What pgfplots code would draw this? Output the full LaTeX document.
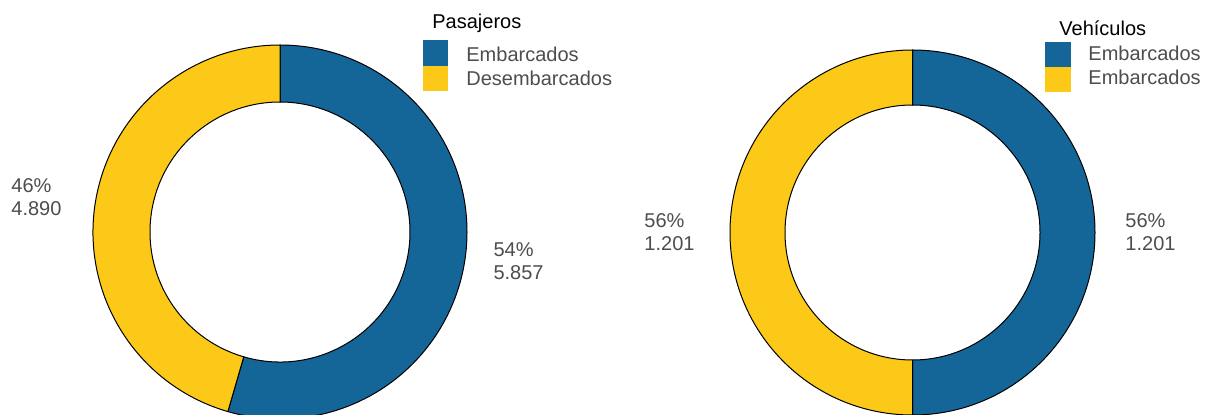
\documentclass[border=0pt]{standalone}
\usepackage{pgfplots}
\pgfplotsset{compat=1.18}
\usepackage{pgfplotstable}
\usepackage{fontspec}
\setmainfont{Liberation Sans}

\definecolor{emb}{HTML}{146699}
\definecolor{des}{HTML}{FCC918}
\definecolor{txt}{HTML}{4D4D4D}

% Movimiento de pasajeros y vehículos
\pgfplotstableread{
cat value
Embarcados 5857
Desembarcados 4890
}\pasajeros
\pgfplotstableread{
cat value
Embarcados 1201
Embarcados 1201
}\vehiculos

% Split angle (clockwise from 12 o'clock) and the two mid angles of a two-slice donut
\newcommand{\donutangles}[2]{%
  \pgfplotstablegetelem{0}{value}\of#1\let\vA\pgfplotsretval
  \pgfplotstablegetelem{1}{value}\of#1\let\vB\pgfplotsretval
  \pgfmathsetmacro\shareA{\vA/(\vA+\vB)}%
  \pgfmathsetmacro\splitang{90-360*\shareA}%
  \pgfmathsetmacro\midA{(90+\splitang)/2}%
  \pgfmathsetmacro\midB{(\splitang-270)/2}%
  \expandafter\xdef\csname #2split\endcsname{\splitang}%
  \expandafter\xdef\csname #2midA\endcsname{\midA}%
  \expandafter\xdef\csname #2midB\endcsname{\midB}%
}
\donutangles{\pasajeros}{P}
\donutangles{\vehiculos}{V}

% ring sector: cx, cy, outer r, inner r, start angle, end angle, colour
\newcommand{\ring}[7]{%
  \fill[#7,draw=black,line width=0.5pt]
    (axis cs:{#1+#3*cos(#5)},{#2+#3*sin(#5)})
    arc[start angle=#5,end angle=#6,radius=#3*0.5pt]
    -- (axis cs:{#1+#4*cos(#6)},{#2+#4*sin(#6)})
    arc[start angle=#6,end angle=#5,radius=#4*0.5pt] -- cycle;}

% slice label: cx, cy, distance, angle, vertical nudge, text
\newcommand{\slicelabel}[6]{%
  \node[txt,align=left,font=\lbl] at (axis cs:{#1+#3*cos(#4)},{#2+#3*sin(#4)+#5}) {#6};}

\newcommand{\lbl}{\fontsize{10}{11.6}\selectfont}

\begin{document}
\begin{tikzpicture}
\begin{axis}[
  x=0.5pt, y=0.5pt,
  xmin=0, xmax=1205, ymin=0, ymax=414,
  hide axis,
]
% Pasajeros
\ring{280}{182}{187}{130}{90}{\Psplit}{emb}
\ring{280}{182}{187}{130}{\Psplit}{-270}{des}
\slicelabel{280}{182}{241}{\PmidA}{5}{54\%\\5.857}
\slicelabel{280}{182}{246}{\PmidB}{0}{46\%\\4.890}

% Vehículos
\ring{912.5}{181.5}{182.5}{127.5}{90}{\Vsplit}{emb}
\ring{912.5}{181.5}{182.5}{127.5}{\Vsplit}{-270}{des}
\slicelabel{912.5}{181.5}{238}{\VmidA}{0}{56\%\\1.201}
\slicelabel{912.5}{181.5}{243}{\VmidB}{0}{56\%\\1.201}

% legends
\node[anchor=base west,inner sep=0pt,font=\lbl] at (axis cs:432,386) {Pasajeros};
\fill[emb] (axis cs:423,374) rectangle (axis cs:448,348);
\fill[des] (axis cs:423,348) rectangle (axis cs:448,323);
\node[txt,anchor=base west,inner sep=0pt,font=\lbl] at (axis cs:466,353) {Embarcados};
\node[txt,anchor=base west,inner sep=0pt,font=\lbl] at (axis cs:466,329) {Desembarcados};

\node[anchor=base west,inner sep=0pt,font=\lbl] at (axis cs:1059,379) {Vehículos};
\fill[emb] (axis cs:1045,372) rectangle (axis cs:1071,347);
\fill[des] (axis cs:1045,347) rectangle (axis cs:1071,322);
\node[txt,anchor=base west,inner sep=0pt,font=\lbl] at (axis cs:1088,354) {Embarcados};
\node[txt,anchor=base west,inner sep=0pt,font=\lbl] at (axis cs:1088,330) {Embarcados};
\end{axis}
\pgfresetboundingbox
\path[use as bounding box] (current axis.south west) rectangle (current axis.north east);
\end{tikzpicture}
\end{document}
